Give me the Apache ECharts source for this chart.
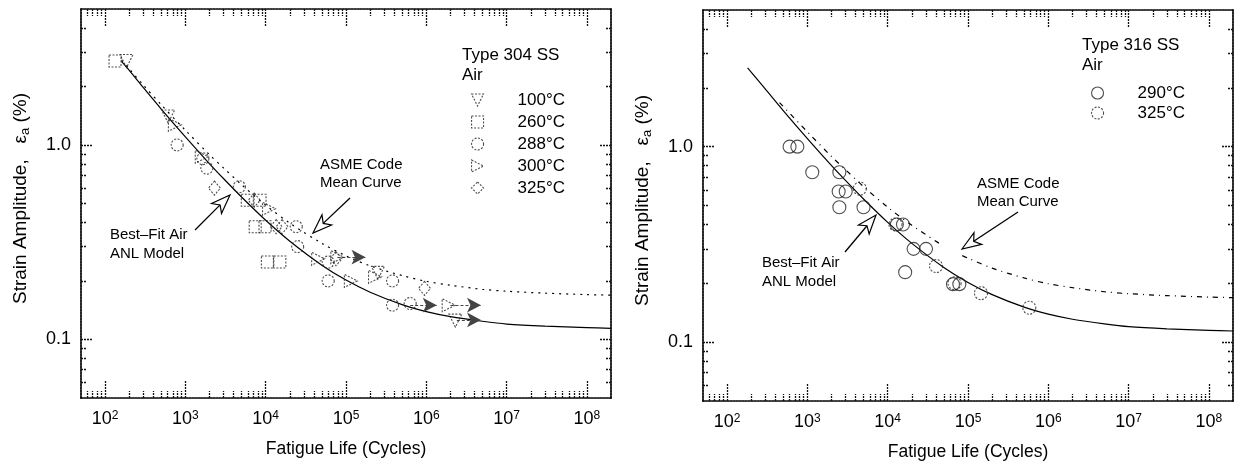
<!DOCTYPE html>
<html><head><meta charset="utf-8">
<script src="https://cdn.jsdelivr.net/npm/echarts@6/dist/echarts.min.js"></script>
<style>html,body{margin:0;padding:0;background:#fff}#c{width:1243px;height:468px}</style>
</head><body><div id="c"></div>
<script>
// ---------------- DATA ----------------
// Left panel: Type 304 SS in air  [cycles, strain amplitude %]
const ss304_100C = [[185,2.7],[610,1.4],[250000,0.22],[2300000,0.125]];
const ss304_260C = [[133,2.7],[5900,0.52],[8500,0.52],[7400,0.38],[9800,0.38],[10500,0.25],[15000,0.25]];
const ss304_288C = [[790,1.0],[1650,0.85],[1850,0.76],[4700,0.61],[24000,0.38],[25000,0.30],[60000,0.25],[60000,0.20],[380000,0.20],[380000,0.15],[630000,0.153]];
const ss304_300C = [[740,1.27],[1600,0.87],[11000,0.47],[45000,0.26],[78000,0.265],[115000,0.20],[230000,0.21],[1900000,0.15]];
const ss304_325C = [[2300,0.60],[7200,0.52],[13500,0.38],[16000,0.38],[75000,0.26],[950000,0.183]];
// run-outs: [start cycles, arrow end cycles, strain]
const ss304_runouts = [[78000,175000,0.265],[630000,1350000,0.15],[2000000,4800000,0.15],[2400000,4800000,0.126]];

// Right panel: Type 316 SS in air
const ss316_290C = [[600,1.0],[750,1.0],[1150,0.74],[2500,0.74],[2450,0.59],[3000,0.59],[2500,0.49],[5000,0.49],[13000,0.40],[15500,0.40],[21000,0.30],[30000,0.30],[16500,0.228],[65000,0.198],[78000,0.198]];
const ss316_325C = [[4500,0.61],[12500,0.40],[40000,0.245],[68000,0.20],[145000,0.178],[580000,0.15]];

// Curves
const bestFit304 = [[160,2.69],[200,2.42],[300,1.97],[500,1.53],[1000,1.10],[2000,0.80],[3000,0.67],[5000,0.54],[10000,0.41],[20000,0.32],[50000,0.241],[100000,0.202],[200000,0.175],[500000,0.151],[1000000,0.139],[2000000,0.131],[5000000,0.124],[10000000,0.120],[30000000,0.117],[100000000,0.115],[200000000,0.114]];
const asme304 = [[160,2.73],[200,2.46],[300,2.03],[500,1.61],[1000,1.19],[2000,0.89],[3000,0.76],[5000,0.625],[10000,0.49],[20000,0.396],[50000,0.312],[100000,0.269],[200000,0.239],[500000,0.213],[1000000,0.199],[2000000,0.190],[5000000,0.181],[10000000,0.177],[30000000,0.173],[100000000,0.170],[200000000,0.169]];
const bestFit316 = [[180,2.53],[300,1.97],[500,1.53],[1000,1.10],[2000,0.80],[3000,0.67],[5000,0.54],[10000,0.41],[20000,0.32],[50000,0.241],[100000,0.202],[200000,0.175],[500000,0.151],[1000000,0.139],[2000000,0.131],[5000000,0.124],[10000000,0.120],[30000000,0.117],[100000000,0.115],[200000000,0.114]];
const asme316a = [[450,1.68],[1000,1.19],[2000,0.89],[3000,0.76],[5000,0.625],[10000,0.49],[20000,0.396],[44000,0.32]];
const asme316b = [[85000,0.277],[100000,0.269],[200000,0.239],[500000,0.213],[1000000,0.199],[2000000,0.190],[5000000,0.181],[10000000,0.177],[30000000,0.173],[100000000,0.170],[200000000,0.169]];

// Tick labels
const xDecades = [1e2,1e3,1e4,1e5,1e6,1e7,1e8];
const yLabelValues = [0.1, 1];
const mantissas = [2,3,4,5,6,7,8,9];

// ---------------- CHART ----------------
const FONT = '"Liberation Sans", Arial, Helvetica, sans-serif';
const X_MIN = 50.1187, X_MAX = 199526231, Y_MIN = 0.05, Y_MAX = 5;
function minorTicks(lo, hi){
  const out = [];
  for (let e = -3; e <= 9; e++) for (const m of mantissas) {
    const v = +(m * Math.pow(10, e)).toPrecision(6);
    if (v > lo * 1.0001 && v < hi * 0.9999) out.push(v);
  }
  return out;
}
const xMinor = minorTicks(X_MIN, X_MAX), yMinor = minorTicks(Y_MIN, Y_MAX);
const frameLine = {color:'#000', width:1.7, type:[2,1]};
const tickLine = {color:'#111', width:1.3, type:[2,1]};

function xAxes(g){
  const base = {type:'log', logBase:10, gridIndex:g, min:X_MIN, max:X_MAX, splitLine:{show:false},
    axisLabel:{show:false}, axisLine:{show:false,onZero:false}, axisPointer:{show:false}};
  return [
    Object.assign({}, base, {position:'bottom', axisLine:{show:true,onZero:false,lineStyle:frameLine},
      axisTick:{show:true,inside:true,length:17,customValues:xDecades,lineStyle:tickLine},
      axisLabel:{show:true,customValues:xDecades,margin:12,
        formatter:v=>'{b|10}{p|'+Math.round(Math.log10(v))+'}',
        rich:{b:{fontSize:18,fontFamily:FONT,color:'#000'},p:{fontSize:12,fontFamily:FONT,color:'#000',verticalAlign:'top'}}},
      name:'Fatigue Life (Cycles)', nameLocation:'middle', nameGap:42,
      nameTextStyle:{fontSize:17.5,fontFamily:FONT,color:'#000'}}),
    Object.assign({}, base, {position:'bottom', axisTick:{show:true,inside:true,length:7,customValues:xMinor,lineStyle:tickLine}}),
    Object.assign({}, base, {position:'top', axisLine:{show:true,onZero:false,lineStyle:frameLine},
      axisTick:{show:true,inside:true,length:17,customValues:xDecades,lineStyle:tickLine}}),
    Object.assign({}, base, {position:'top', axisTick:{show:true,inside:true,length:7,customValues:xMinor,lineStyle:tickLine}})
  ];
}
function yAxes(g){
  const base = {type:'log', logBase:10, gridIndex:g, min:Y_MIN, max:Y_MAX, splitLine:{show:false},
    axisLabel:{show:false}, axisLine:{show:false,onZero:false}, axisPointer:{show:false}};
  return [
    Object.assign({}, base, {position:'left', axisLine:{show:true,onZero:false,lineStyle:frameLine},
      axisTick:{show:true,inside:true,length:12,customValues:yLabelValues,lineStyle:tickLine},
      axisLabel:{show:true,customValues:yLabelValues,margin:10,formatter:v=>Number(v).toFixed(1),
        fontSize:18,fontFamily:FONT,color:'#000'},
      name:'{n|Strain Amplitude,   ε}{s|a}{n| (%)}', nameLocation:'middle', nameGap:49, nameRotate:90,
      nameTextStyle:{fontSize:19,fontFamily:FONT,color:'#000', padding:[0,0,0,10],
        rich:{n:{fontSize:19,fontFamily:FONT,color:'#000',lineHeight:23},
              s:{fontSize:13,fontFamily:FONT,color:'#000',verticalAlign:'bottom',lineHeight:13}}}}),
    Object.assign({}, base, {position:'left', axisTick:{show:true,inside:true,length:6,customValues:yMinor,lineStyle:tickLine}}),
    Object.assign({}, base, {position:'right', axisLine:{show:true,onZero:false,lineStyle:frameLine},
      axisTick:{show:true,inside:true,length:12,customValues:yLabelValues,lineStyle:tickLine}}),
    Object.assign({}, base, {position:'right', axisTick:{show:true,inside:true,length:6,customValues:yMinor,lineStyle:tickLine}})
  ];
}

function hollow(dotted){ return {color:'rgba(255,255,255,0)', borderColor:'#222', borderWidth:1.1, borderType: dotted ? [2,1.5] : 'solid'}; }
function scatter(name, data, g, symbol, rot, size, dotted){
  return {type:'scatter', name, data, xAxisIndex:g*4, yAxisIndex:g*4, symbol, symbolRotate:rot, symbolSize:size,
    itemStyle:hollow(dotted), emphasis:{disabled:true}, z:5};
}
function curve(name, data, g, lineType){
  return {type:'line', name, data, xAxisIndex:g*4, yAxisIndex:g*4, showSymbol:false, symbol:'none', smooth:0.3,
    lineStyle:{color:'#000', width:1.2, type:lineType}, emphasis:{disabled:true}, z:3};
}
function runoutSeries(list, g){
  return {type:'scatter', name:'runouts', data:[], xAxisIndex:g*4, yAxisIndex:g*4,
    markLine:{silent:true, symbol:['none','arrow'], symbolSize:[11,14], label:{show:false},
      lineStyle:{color:'#444', width:1, type:[3,2]}, emphasis:{disabled:true},
      data: list.map(r => [{coord:[r[0], r[2]]},{coord:[r[1], r[2]]}])}};
}

function arrow(x1,y1,x2,y2){
  const dx=x2-x1, dy=y2-y1, L=Math.hypot(dx,dy), ux=dx/L, uy=dy/L;
  const hl=19, hw=7, notch=5;
  const bx=x2-ux*hl, by=y2-uy*hl, nx=bx+ux*notch, ny=by+uy*notch;
  return [
    {type:'line', shape:{x1:x1,y1:y1,x2:nx,y2:ny}, style:{stroke:'#000', lineWidth:1.3}, z:10},
    {type:'polygon', shape:{points:[[x2,y2],[bx-uy*hw,by+ux*hw],[nx,ny],[bx+uy*hw,by-ux*hw]]},
      style:{fill:'#fff', stroke:'#000', lineWidth:1.2}, z:10}
  ];
}
function txt(s, x, y, size){
  return {type:'text', x:x, y:y, z:10, style:{text:s, fill:'#000', font:size+'px '+FONT,
    textAlign:'left', textVerticalAlign:'middle', align:'left', verticalAlign:'middle'}};
}

const legendNames = {L100:'100°C', L260:'260°C', L288:'288°C', L300:'300°C', L325:'325°C', R290:'290°C', R325:'325°C'};
const ICON_DOWN = 'path://M0,0L12,0L6,12Z';
const ICON_RIGHT = 'path://M0,0L12,6L0,12Z';
function legItem(name, icon, dotted){
  return {name, icon, itemStyle:hollow(dotted)};
}
const legendCommon = {orient:'vertical', itemWidth:12, itemHeight:12, selectedMode:false,
  formatter: n => legendNames[n],
  textStyle:{fontSize:17, lineHeight:18, fontFamily:FONT, color:'#000', padding:[0,0,0,29]}};

const option = {
  animation:false,
  backgroundColor:'#fff',
  grid:[{left:81, top:9, width:530, height:389}, {left:703, top:10, width:530, height:391}],
  xAxis:[...xAxes(0), ...xAxes(1)],
  yAxis:[...yAxes(0), ...yAxes(1)],
  legend:[
    Object.assign({}, legendCommon, {left:466, top:86, itemGap:4, data:[
      legItem('L100',ICON_DOWN,true), legItem('L260','rect',true), legItem('L288','circle',true),
      legItem('L300',ICON_RIGHT,true), legItem('L325','diamond',true)]}),
    Object.assign({}, legendCommon, {left:1086, top:79, itemGap:2, data:[
      legItem('R290','circle',false), legItem('R325','circle',true)]})
  ],
  series:[
    curve('bestFit304', bestFit304, 0, 'solid'),
    curve('asme304', asme304, 0, [2,5]),
    scatter('L100', ss304_100C, 0, 'triangle', 180, 13, true),
    scatter('L260', ss304_260C, 0, 'rect', 0, 12, true),
    scatter('L288', ss304_288C, 0, 'circle', 0, 12, true),
    scatter('L300', ss304_300C, 0, 'triangle', -90, 13, true),
    scatter('L325', ss304_325C, 0, 'diamond', 0, [12,14], true),
    runoutSeries(ss304_runouts, 0),
    curve('bestFit316', bestFit316, 1, 'solid'),
    curve('asme316a', asme316a, 1, [5,5,1,5]),
    curve('asme316b', asme316b, 1, [5,5,1,5]),
    scatter('R290', ss316_290C, 1, 'circle', 0, 13, false),
    scatter('R325', ss316_325C, 1, 'circle', 0, 13, true)
  ],
  graphic:[
    txt('Type 304 SS', 462, 55, 17), txt('Air', 462, 75, 17),
    txt('Type 316 SS', 1082, 45, 17), txt('Air', 1082, 65, 17),
    txt('ASME Code', 320, 165, 15), txt('Mean Curve', 320, 183, 15),
    txt('Best\u2013Fit Air', 110, 235, 15), txt('ANL Model', 110, 254, 15),
    txt('ASME Code', 977, 184, 15), txt('Mean Curve', 977, 202, 15),
    txt('Best\u2013Fit Air', 762, 263, 15), txt('ANL Model', 762, 282, 15),
    ...arrow(350,198,313,233), ...arrow(195,230,230,195),
    ...arrow(1018,212,962,249), ...arrow(845,252,876,215)
  ]
};
const chart = echarts.init(document.getElementById('c'), null, {renderer:'canvas'});
chart.setOption(option);
</script>
</body></html>
